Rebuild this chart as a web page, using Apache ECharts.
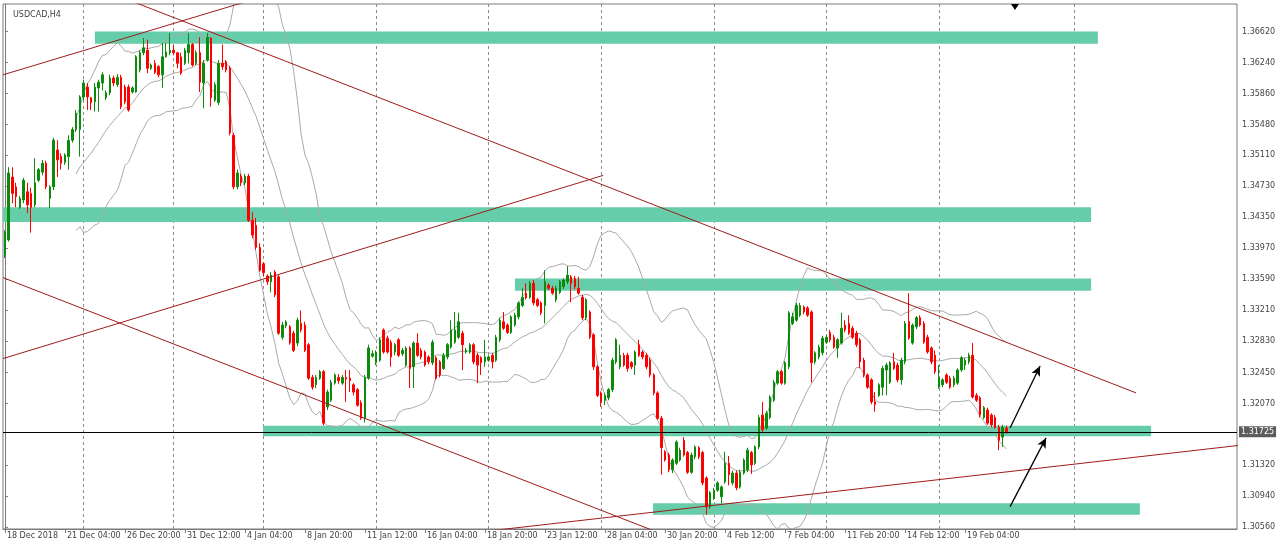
<!DOCTYPE html>
<html><head><meta charset="utf-8">
<script src="https://cdn.jsdelivr.net/npm/echarts@6/dist/echarts.min.js"></script>
<style>html,body{margin:0;padding:0;background:#fff}#c{width:1280px;height:551px}</style>
</head><body><div id="c"></div><script>
// ---- USDCAD H4 candles ----
const opens = [
1.3389,1.3407,1.3484,1.3472,1.3447,1.3456,1.3466,1.3464,1.3450,1.3480,
1.3490,1.3501,1.3458,1.3472,1.3517,1.3509,1.3502,1.3509,1.3529,1.3542,
1.3542,1.3582,1.3594,1.3581,1.3576,1.3593,1.3599,1.3581,1.3587,1.3605,
1.3597,1.3606,1.3594,1.3594,1.3588,1.3588,1.3615,1.3636,1.3639,1.3617,
1.3623,1.3619,1.3609,1.3631,1.3636,1.3639,1.3636,1.3631,1.3623,1.3636,
1.3646,1.3623,1.3636,1.3599,1.3627,1.3654,1.3578,1.3575,1.3623,1.3625,
1.3617,1.3535,1.3472,1.3485,1.3477,1.3485,1.3431,1.3425,1.3398,1.3378,
1.3363,1.3356,1.3368,1.3362,1.3288,1.3302,1.3301,1.3293,1.3281,1.3305,
1.3303,1.3279,1.3239,1.3230,1.3238,1.3246,1.3203,1.3211,1.3232,1.3239,
1.3232,1.3239,1.3238,1.3230,1.3224,1.3208,1.3189,1.3238,1.3265,1.3257,
1.3260,1.3297,1.3287,1.3282,1.3270,1.3285,1.3268,1.3254,1.3275,1.3252,
1.3281,1.3272,1.3270,1.3264,1.3257,1.3263,1.3258,1.3250,1.3264,1.3276,
1.3282,1.3288,1.3293,1.3270,1.3270,1.3279,1.3266,1.3263,1.3258,1.3260,
1.3266,1.3260,1.3285,1.3307,1.3303,1.3294,1.3303,1.3313,1.3327,1.3342,
1.3337,1.3354,1.3334,1.3330,1.3327,1.3352,1.3348,1.3334,1.3343,1.3350,
1.3356,1.3362,1.3360,1.3348,1.3337,1.3312,1.3319,1.3291,1.3252,1.3220,
1.3211,1.3214,1.3224,1.3258,1.3252,1.3266,1.3266,1.3257,1.3254,1.3279,
1.3270,1.3266,1.3260,1.3242,1.3220,1.3189,1.3148,1.3144,1.3126,1.3134,
1.3138,1.3162,1.3147,1.3123,1.3142,1.3153,1.3147,1.3116,1.3081,1.3091,
1.3101,1.3093,1.3111,1.3134,1.3110,1.3122,1.3105,1.3122,1.3126,1.3147,
1.3134,1.3154,1.3193,1.3177,1.3190,1.3211,1.3232,1.3246,1.3232,1.3252,
1.3305,1.3309,1.3315,1.3325,1.3324,1.3319,1.3258,1.3264,1.3269,1.3282,
1.3294,1.3288,1.3275,1.3281,1.3303,1.3305,1.3299,1.3293,1.3285,1.3260,
1.3242,1.3236,1.3209,1.3217,1.3227,1.3248,1.3233,1.3258,1.3254,1.3236,
1.3258,1.3307,1.3281,1.3301,1.3312,1.3305,1.3288,1.3275,1.3266,1.3227,
1.3230,1.3242,1.3238,1.3230,1.3232,1.3248,1.3254,1.3258,1.3266,1.3217,
1.3214,1.3190,1.3199,1.3193,1.3190,1.3178,1.3166,1.3177];
const closes = [
1.3416,1.3489,1.3464,1.3460,1.3458,1.3480,1.3450,1.3447,1.3477,1.3493,
1.3501,1.3472,1.3472,1.3529,1.3505,1.3501,1.3511,1.3529,1.3542,1.3562,
1.3582,1.3599,1.3582,1.3575,1.3594,1.3600,1.3609,1.3587,1.3605,1.3599,
1.3606,1.3570,1.3576,1.3566,1.3593,1.3631,1.3636,1.3642,1.3617,1.3621,
1.3612,1.3609,1.3631,1.3637,1.3639,1.3636,1.3623,1.3611,1.3639,1.3646,
1.3621,1.3636,1.3600,1.3623,1.3655,1.3581,1.3597,1.3623,1.3619,1.3615,
1.3538,1.3472,1.3489,1.3477,1.3485,1.3431,1.3413,1.3398,1.3370,1.3367,
1.3356,1.3364,1.3340,1.3293,1.3303,1.3307,1.3281,1.3272,1.3309,1.3297,
1.3272,1.3238,1.3227,1.3239,1.3246,1.3183,1.3221,1.3233,1.3242,1.3235,
1.3239,1.3237,1.3235,1.3221,1.3205,1.3189,1.3239,1.3275,1.3268,1.3270,
1.3285,1.3270,1.3270,1.3264,1.3279,1.3266,1.3272,1.3275,1.3250,1.3281,
1.3266,1.3264,1.3254,1.3258,1.3282,1.3238,1.3242,1.3266,1.3279,1.3297,
1.3297,1.3307,1.3279,1.3272,1.3279,1.3258,1.3254,1.3257,1.3264,1.3264,
1.3258,1.3288,1.3309,1.3299,1.3294,1.3313,1.3315,1.3330,1.3337,1.3336,
1.3354,1.3330,1.3327,1.3318,1.3356,1.3348,1.3342,1.3348,1.3356,1.3358,
1.3364,1.3354,1.3350,1.3342,1.3312,1.3334,1.3288,1.3252,1.3217,1.3209,
1.3217,1.3224,1.3260,1.3285,1.3266,1.3254,1.3250,1.3252,1.3270,1.3266,
1.3264,1.3252,1.3242,1.3220,1.3189,1.3153,1.3138,1.3126,1.3138,1.3160,
1.3150,1.3144,1.3123,1.3144,1.3154,1.3142,1.3110,1.3081,1.3098,1.3101,
1.3110,1.3105,1.3134,1.3120,1.3122,1.3104,1.3123,1.3138,1.3150,1.3132,
1.3154,1.3190,1.3175,1.3195,1.3215,1.3233,1.3246,1.3232,1.3257,1.3318,
1.3313,1.3327,1.3327,1.3319,1.3315,1.3257,1.3269,1.3276,1.3287,1.3288,
1.3285,1.3276,1.3285,1.3299,1.3297,1.3293,1.3288,1.3279,1.3258,1.3242,
1.3227,1.3209,1.3206,1.3230,1.3250,1.3254,1.3257,1.3250,1.3236,1.3260,
1.3305,1.3287,1.3303,1.3312,1.3303,1.3282,1.3270,1.3258,1.3246,1.3239,
1.3236,1.3233,1.3227,1.3238,1.3248,1.3263,1.3260,1.3266,1.3215,1.3211,
1.3193,1.3202,1.3183,1.3181,1.3178,1.3162,1.3178,1.31725];
const lows = [
1.3385,1.3405,1.3452,1.3447,1.3445,1.3452,1.3440,1.3416,1.3447,1.3478,
1.3486,1.3469,1.3446,1.3468,1.3484,1.3493,1.3499,1.3493,1.3526,1.3539,
1.3509,1.3578,1.3566,1.3566,1.3564,1.3564,1.3590,1.3578,1.3584,1.3595,
1.3594,1.3567,1.3573,1.3564,1.3586,1.3587,1.3612,1.3633,1.3611,1.3615,
1.3610,1.3606,1.3593,1.3630,1.3633,1.3633,1.3617,1.3609,1.3621,1.3623,
1.3619,1.3621,1.3588,1.3568,1.3625,1.3570,1.3576,1.3572,1.3615,1.3612,
1.3535,1.3469,1.3469,1.3473,1.3474,1.3429,1.3409,1.3395,1.3368,1.3363,
1.3352,1.3343,1.3337,1.3291,1.3285,1.3299,1.3279,1.3270,1.3277,1.3294,
1.3270,1.3236,1.3224,1.3226,1.3236,1.3180,1.3199,1.3209,1.3230,1.3231,
1.3230,1.3209,1.3221,1.3217,1.3203,1.3187,1.3184,1.3236,1.3263,1.3254,
1.3258,1.3268,1.3268,1.3252,1.3266,1.3264,1.3265,1.3252,1.3226,1.3226,
1.3264,1.3261,1.3252,1.3255,1.3254,1.3236,1.3239,1.3248,1.3261,1.3274,
1.3280,1.3286,1.3248,1.3268,1.3268,1.3255,1.3232,1.3242,1.3252,1.3258,
1.3250,1.3258,1.3282,1.3297,1.3292,1.3292,1.3301,1.3310,1.3325,1.3334,
1.3335,1.3327,1.3325,1.3315,1.3305,1.3346,1.3340,1.3331,1.3341,1.3347,
1.3353,1.3331,1.3347,1.3340,1.3309,1.3309,1.3286,1.3248,1.3215,1.3203,
1.3205,1.3211,1.3221,1.3255,1.3249,1.3252,1.3246,1.3249,1.3242,1.3264,
1.3261,1.3249,1.3239,1.3217,1.3187,1.3120,1.3136,1.3123,1.3122,1.3132,
1.3136,1.3142,1.3121,1.3121,1.3139,1.3139,1.3107,1.3071,1.3078,1.3089,
1.3099,1.3085,1.3109,1.3107,1.3107,1.3101,1.3103,1.3120,1.3123,1.3121,
1.3132,1.3151,1.3172,1.3175,1.3188,1.3209,1.3230,1.3230,1.3230,1.3249,
1.3303,1.3307,1.3313,1.3316,1.3313,1.3233,1.3255,1.3261,1.3266,1.3280,
1.3282,1.3274,1.3263,1.3279,1.3294,1.3291,1.3286,1.3276,1.3250,1.3239,
1.3225,1.3206,1.3197,1.3215,1.3217,1.3217,1.3231,1.3248,1.3233,1.3230,
1.3255,1.3285,1.3279,1.3298,1.3301,1.3280,1.3268,1.3255,1.3243,1.3225,
1.3227,1.3231,1.3225,1.3227,1.3230,1.3246,1.3248,1.3255,1.3213,1.3209,
1.3190,1.3188,1.3181,1.3178,1.3176,1.3150,1.3154,1.3170];
const highs = [
1.3419,1.3496,1.3496,1.3477,1.3461,1.3483,1.3477,1.3471,1.3507,1.3495,
1.3505,1.3504,1.3474,1.3532,1.3529,1.3513,1.3513,1.3535,1.3545,1.3566,
1.3584,1.3603,1.3599,1.3582,1.3599,1.3603,1.3612,1.3590,1.3609,1.3608,
1.3610,1.3609,1.3597,1.3597,1.3595,1.3633,1.3639,1.3654,1.3652,1.3623,
1.3627,1.3621,1.3648,1.3648,1.3660,1.3646,1.3637,1.3636,1.3642,1.3660,
1.3648,1.3639,1.3655,1.3627,1.3660,1.3655,1.3600,1.3627,1.3646,1.3627,
1.3620,1.3538,1.3493,1.3488,1.3488,1.3488,1.3441,1.3434,1.3403,1.3380,
1.3365,1.3368,1.3370,1.3364,1.3307,1.3309,1.3303,1.3296,1.3312,1.3321,
1.3307,1.3281,1.3242,1.3242,1.3248,1.3248,1.3224,1.3236,1.3244,1.3243,
1.3242,1.3248,1.3248,1.3232,1.3226,1.3211,1.3242,1.3279,1.3272,1.3272,
1.3288,1.3299,1.3290,1.3285,1.3281,1.3287,1.3275,1.3277,1.3277,1.3283,
1.3293,1.3275,1.3272,1.3266,1.3285,1.3265,1.3260,1.3269,1.3281,1.3309,
1.3319,1.3318,1.3296,1.3275,1.3281,1.3281,1.3269,1.3265,1.3285,1.3266,
1.3269,1.3291,1.3312,1.3319,1.3305,1.3315,1.3318,1.3332,1.3348,1.3354,
1.3357,1.3358,1.3336,1.3332,1.3370,1.3354,1.3351,1.3351,1.3358,1.3360,
1.3375,1.3364,1.3363,1.3362,1.3340,1.3336,1.3321,1.3293,1.3254,1.3222,
1.3220,1.3226,1.3263,1.3287,1.3279,1.3269,1.3269,1.3259,1.3272,1.3285,
1.3272,1.3269,1.3263,1.3244,1.3222,1.3192,1.3150,1.3147,1.3140,1.3162,
1.3153,1.3166,1.3149,1.3147,1.3156,1.3155,1.3149,1.3118,1.3100,1.3104,
1.3112,1.3107,1.3148,1.3143,1.3125,1.3125,1.3126,1.3140,1.3153,1.3149,
1.3156,1.3193,1.3209,1.3198,1.3217,1.3236,1.3248,1.3248,1.3259,1.3320,
1.3318,1.3330,1.3330,1.3327,1.3326,1.3321,1.3271,1.3279,1.3290,1.3291,
1.3297,1.3291,1.3287,1.3318,1.3309,1.3315,1.3302,1.3296,1.3287,1.3263,
1.3244,1.3238,1.3221,1.3232,1.3253,1.3257,1.3259,1.3269,1.3257,1.3263,
1.3308,1.3342,1.3305,1.3314,1.3315,1.3308,1.3291,1.3277,1.3272,1.3254,
1.3238,1.3244,1.3241,1.3241,1.3250,1.3265,1.3263,1.3269,1.3281,1.3220,
1.3216,1.3204,1.3202,1.3195,1.3193,1.3181,1.3181,1.3180];

// ---- axis text ----
const symbolTitle = 'USDCAD,H4';
const xTickLabels = ['18 Dec 2018','21 Dec 04:00','26 Dec 20:00','31 Dec 12:00','4 Jan 04:00','8 Jan 20:00',
  '11 Jan 12:00','16 Jan 04:00','18 Jan 20:00','23 Jan 12:00','28 Jan 04:00','30 Jan 20:00','4 Feb 12:00',
  '7 Feb 04:00','11 Feb 20:00','14 Feb 12:00','19 Feb 04:00'];
const barsPerTick = 16;
const totalSlots = 329;                 // bars + empty shift area on the right
const weekGridBars = [21,45,69,99,129,159,189,219,249,285];
const yTickValues = [1.30560,1.30940,1.31320,1.32070,1.32450,1.32830,1.33210,1.33590,1.33970,
  1.34350,1.34730,1.35110,1.35480,1.35860,1.36240,1.36620];
const yMin = 1.30536, yMax = 1.36956;
const lastPrice = 1.31725;

// ---- drawn objects: [bar index, price] ----
const zoneStart = [24.0, -0.5, 136.0, 68.8, 172.8];
const zoneEnd   = [291.4, 289.6, 289.6, 305.6, 302.6];
const zoneTop   = [1.3662, 1.3447, 1.3360, 1.3180, 1.3085];
const zoneBot   = [1.3647, 1.3429, 1.3345, 1.3167, 1.3071];
const trendLines = [
  [[-0.5, 1.3609], [65.4, 1.3700]],
  [[33.3, 1.3700], [301.6, 1.3220]],
  [[-0.5, 1.3262], [159.5, 1.3486]],
  [[-0.5, 1.3361], [173.8, 1.3050]],
  [[126.7, 1.3050], [329.3, 1.3156]]
];
const arrows = [
  [[268.0, 1.3177], [276.0, 1.3253]],
  [[268.0, 1.3081], [277.6, 1.3165]]
];
const shiftMarkerBar = 269.3;

// ---- Bollinger Bands (20, 2) from closes ----
const bbPeriod = 20, bbDev = 2;
const bbMid = [], bbUp = [], bbLo = [];
for (let i = 0; i < closes.length; i++) {
  if (i < bbPeriod - 1) { bbMid.push(null); bbUp.push(null); bbLo.push(null); continue; }
  let s = 0; for (let k = i - bbPeriod + 1; k <= i; k++) s += closes[k];
  const m = s / bbPeriod;
  let v = 0; for (let k = i - bbPeriod + 1; k <= i; k++) v += (closes[k] - m) ** 2;
  const sd = Math.sqrt(v / bbPeriod);
  bbMid.push(m); bbUp.push(m + bbDev * sd); bbLo.push(m - bbDev * sd);
}

const slots = Array.from({length: totalSlots}, (_, i) => String(i));
const candleData = opens.map((o, i) => [o, closes[i], lows[i], highs[i]]);
const FONT = 'DejaVu Sans';
const tickShown = (idx) => idx % barsPerTick === 0 && idx / barsPerTick < xTickLabels.length;

const bbStyle = {type: 'line', xAxisIndex: 0, yAxisIndex: 0, showSymbol: false, symbol: 'none',
  lineStyle: {color: '#a9a9a9', width: 1}, z: 2, silent: true, connectNulls: false};

const series = [
  {
    type: 'line', xAxisIndex: 1, yAxisIndex: 0, data: [], silent: true,
    markArea: {silent: true, z: 1, itemStyle: {color: '#66cdaa', opacity: 1},
      data: zoneStart.map((s, k) => [{coord: [s, zoneTop[k]]}, {coord: [zoneEnd[k], zoneBot[k]]}])},
    markLine: {silent: true, z: 0, symbol: ['none', 'none'], label: {show: false},
      lineStyle: {color: '#8c8c8c', width: 1, type: [3, 3]},
      data: weekGridBars.map(b => ({xAxis: b}))}
  },
  Object.assign({}, bbStyle, {data: bbUp}),
  Object.assign({}, bbStyle, {data: bbMid}),
  Object.assign({}, bbStyle, {data: bbLo}),
  {
    type: 'candlestick', xAxisIndex: 0, yAxisIndex: 0, data: candleData, barWidth: 2, z: 3,
    itemStyle: {color: '#0b8a0b', color0: '#ff0000', borderColor: '#0b8a0b', borderColor0: '#ff0000', borderWidth: 1}
  },
  {
    type: 'line', xAxisIndex: 1, yAxisIndex: 0, data: [], silent: true,
    markLine: {silent: true, symbol: ['none', 'none'], z: 6,
      lineStyle: {color: '#000', width: 1, type: 'solid'},
      label: {show: true, position: 'end', formatter: lastPrice.toFixed(5), backgroundColor: '#5c5c5c',
        color: '#fff', padding: [2, 2, 1, 2], fontSize: 8, fontFamily: FONT, distance: 2},
      data: [[{coord: [-0.5, lastPrice]}, {coord: [totalSlots - 0.5, lastPrice]}]]}
  }
];
trendLines.forEach(l => series.push({
  type: 'line', xAxisIndex: 1, yAxisIndex: 0, data: l, symbol: 'none', silent: true, z: 4,
  lineStyle: {color: '#9e1b1b', width: 1}
}));
series.push({
  type: 'line', xAxisIndex: 1, yAxisIndex: 0, data: [], silent: true,
  markLine: {silent: true, z: 7, symbol: ['none', 'arrow'], symbolSize: [7, 10], label: {show: false},
    lineStyle: {color: '#000', width: 1.3, type: 'solid'},
    data: arrows.map(a => [{coord: a[0]}, {coord: a[1]}])},
  markPoint: {silent: true, symbol: 'triangle', symbolRotate: 180, symbolSize: [8, 6], symbolOffset: [0, 3],
    itemStyle: {color: '#000'}, label: {show: false},
    data: [{coord: [shiftMarkerBar, yMax]}]}
});

const chart = echarts.init(document.getElementById('c'), null, {renderer: 'canvas'});
chart.setOption({
  animation: false,
  backgroundColor: '#ffffff',
  title: {text: symbolTitle, left: 8, top: 6,
    textStyle: {fontSize: 8, fontWeight: 'normal', color: '#444', fontFamily: FONT}},
  grid: {left: 3, right: 43, top: 4, bottom: 22, show: true, borderColor: '#7a7a7a', borderWidth: 1,
    containLabel: false, outerBoundsMode: 'none'},
  xAxis: [
    {type: 'category', data: slots, boundaryGap: true,
      axisLine: {show: true, lineStyle: {color: '#7a7a7a'}},
      axisTick: {show: true, alignWithLabel: true, interval: tickShown, length: 4, lineStyle: {color: '#7a7a7a'}},
      axisLabel: {interval: tickShown, formatter: (v, idx) => tickShown(idx) ? xTickLabels[idx / barsPerTick] : '',
        align: 'left', margin: 3, padding: [0, 0, 0, 2], fontSize: 8, color: '#444', fontFamily: FONT},
      splitLine: {show: false}},
    {type: 'value', min: -0.5, max: totalSlots - 0.5, show: false, splitLine: {show: false}}
  ],
  yAxis: {type: 'value', position: 'right', min: yMin, max: yMax, scale: true,
    axisLine: {show: true, lineStyle: {color: '#7a7a7a'}},
    axisTick: {show: true, customValues: yTickValues, length: 3, lineStyle: {color: '#7a7a7a'}},
    axisLabel: {customValues: yTickValues, formatter: v => v.toFixed(5), margin: 5, fontSize: 8,
      color: '#444', fontFamily: FONT},
    splitLine: {show: false}},
  series: series
});
</script></body></html>
